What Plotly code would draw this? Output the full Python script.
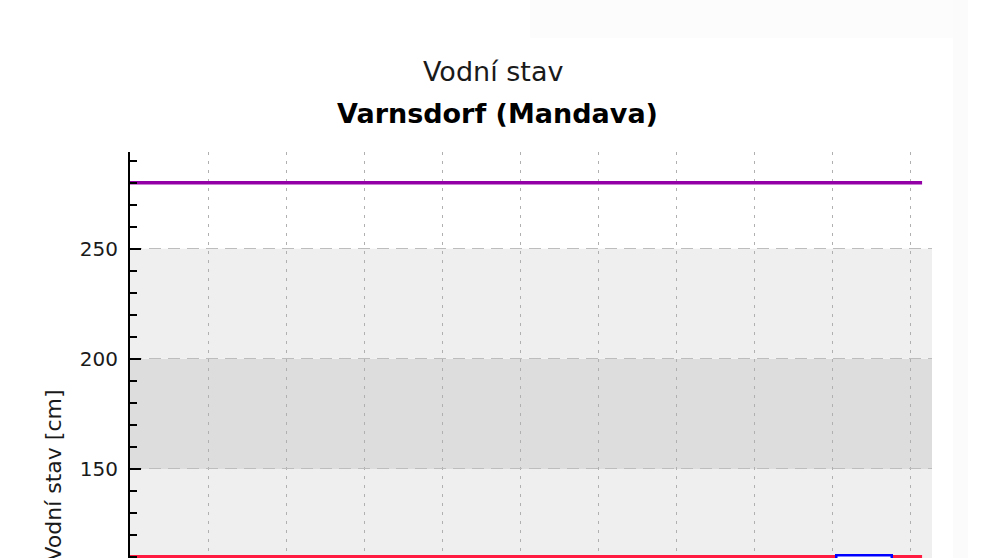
"""Vodní stav – Varnsdorf (Mandava), water level chart."""

from datetime import datetime, timedelta

import plotly.graph_objects as go

# ---- data -------------------------------------------------------------
TITLE = "Vodní stav"
STATION = "Varnsdorf (Mandava)"
Y_TITLE = "Vodní stav [cm]"

START = datetime(2024, 5, 6, 0, 0)
RANGE_END = START + timedelta(days=10, hours=6, minutes=43)
LAST_MEASUREMENT = START + timedelta(days=10, hours=3, minutes=40)

# threshold lines (cm)
PURPLE_LEVEL = 280
RED_LEVEL = 110

# grey background bands (cm)
BAND_LOW = [0, 150]
BAND_MID = [150, 200]
BAND_HIGH = [200, 250]

# measured water level (cm), every 12 h – lies below the visible part of the chart
LEVEL_TIMES = [START + timedelta(hours=12 * i) for i in range(21)] + [LAST_MEASUREMENT]
LEVEL_VALUES = [31, 31, 30, 30, 30, 29, 29, 29, 28, 28, 28,
                28, 27, 27, 28, 29, 29, 28, 28, 28, 28, 28]

# hover label shown on the chart
TOOLTIP_TIME = START + timedelta(days=9, hours=9, minutes=40)
TOOLTIP_TEXT = "28 cm"

# ---- style ------------------------------------------------------------
FONT = "DejaVu Sans, Verdana, sans-serif"
text_color = "#1a1a1a"
light_band = "#efefef"
dark_band = "#dddddd"
purple = "#9300a6"
red = "#ff1a40"
blue = "#0000ff"

W, H = 991, 900
M_L, M_R, M_T, M_B = 130, 59, 152, 101
plot_w = W - M_L - M_R
plot_h = H - M_T - M_B


def px_to_paper_x(px):
    return (px - M_L) / plot_w


def px_to_paper_y(py):
    return (H - M_B - py) / plot_h


fig = go.Figure()

# water level
fig.add_trace(go.Scatter(
    x=LEVEL_TIMES, y=LEVEL_VALUES, mode="lines",
    line=dict(color=blue, width=2.5),
    name="Vodní stav", showlegend=False,
))

# thresholds
fig.add_trace(go.Scatter(
    x=[START, LAST_MEASUREMENT], y=[PURPLE_LEVEL, PURPLE_LEVEL], mode="lines",
    line=dict(color=purple, width=3.5), hoverinfo="skip", showlegend=False,
))
fig.add_trace(go.Scatter(
    x=[START, LAST_MEASUREMENT], y=[RED_LEVEL, RED_LEVEL], mode="lines",
    line=dict(color=red, width=4), hoverinfo="skip", showlegend=False,
))

# background bands
for (y0, y1), col in ((BAND_LOW, light_band), (BAND_MID, dark_band), (BAND_HIGH, light_band)):
    fig.add_shape(type="rect", xref="paper", yref="y", x0=0, x1=1, y0=y0, y1=y1,
                  fillcolor=col, line_width=0, layer="below")

# faint page artefacts around the chart
fig.add_shape(type="rect", xref="paper", yref="paper",
              x0=px_to_paper_x(530), x1=px_to_paper_x(953),
              y0=px_to_paper_y(38), y1=px_to_paper_y(0),
              fillcolor="#fcfcfc", line_width=0, layer="below")
fig.add_shape(type="rect", xref="paper", yref="paper",
              x0=px_to_paper_x(953), x1=px_to_paper_x(968),
              y0=px_to_paper_y(H), y1=px_to_paper_y(0),
              fillcolor="#fbfbfb", line_width=0, layer="below")

# titles
fig.add_annotation(
    x=px_to_paper_x(493), y=px_to_paper_y(71), xref="paper", yref="paper",
    text=TITLE, showarrow=False, xanchor="center", yanchor="middle",
    font=dict(family=FONT, size=27, color=text_color),
)
fig.add_annotation(
    x=px_to_paper_x(497), y=px_to_paper_y(114), xref="paper", yref="paper",
    text=f"<b>{STATION}</b>", showarrow=False, xanchor="center", yanchor="middle",
    font=dict(family=FONT, size=27, color="#000000"),
)

# tooltip box
fig.add_annotation(
    x=TOOLTIP_TIME, y=RED_LEVEL, xref="x", yref="y",
    text=TOOLTIP_TEXT, showarrow=False, xanchor="center", yanchor="top", yshift=3,
    font=dict(family=FONT, size=15, color=text_color),
    bgcolor="#ffffff", bordercolor=blue, borderwidth=2.5, borderpad=3,
)

fig.update_layout(
    width=W, height=H,
    margin=dict(l=M_L, r=M_R, t=M_T, b=M_B),
    paper_bgcolor="#ffffff",
    plot_bgcolor="#ffffff",
    font=dict(family=FONT, color=text_color),
    showlegend=False,
    xaxis=dict(
        type="date",
        range=[START, RANGE_END],
        tick0=START, dtick=86400000,
        tickformat="%d.%m.",
        showgrid=True, gridcolor="#b0b0b0", griddash="3px,6px", gridwidth=1.2,
        showline=True, linecolor="#000000", linewidth=2,
        ticks="inside", ticklen=10, tickcolor="#000000",
        tickfont=dict(size=18, color=text_color),
        zeroline=False,
    ),
    yaxis=dict(
        range=[0, 294],
        tick0=0, dtick=50,
        showgrid=True, gridcolor="#bdbdbd", griddash="12px,7px", gridwidth=1.2,
        showline=True, linecolor="#000000", linewidth=2,
        ticks="inside", ticklen=11, tickwidth=2, tickcolor="#000000",
        minor=dict(dtick=10, ticks="inside", ticklen=7, tickwidth=2,
                   tickcolor="#000000", showgrid=False),
        tickfont=dict(size=20, color=text_color),
        ticklabelstandoff=6,
        title=dict(text=Y_TITLE, font=dict(size=22, color=text_color), standoff=12),
        zeroline=False,
    ),
)

fig.write_html(
    "out.html",
    config={"displayModeBar": False},
    post_script="document.body.style.margin='0';document.body.style.overflow='hidden';",
)
